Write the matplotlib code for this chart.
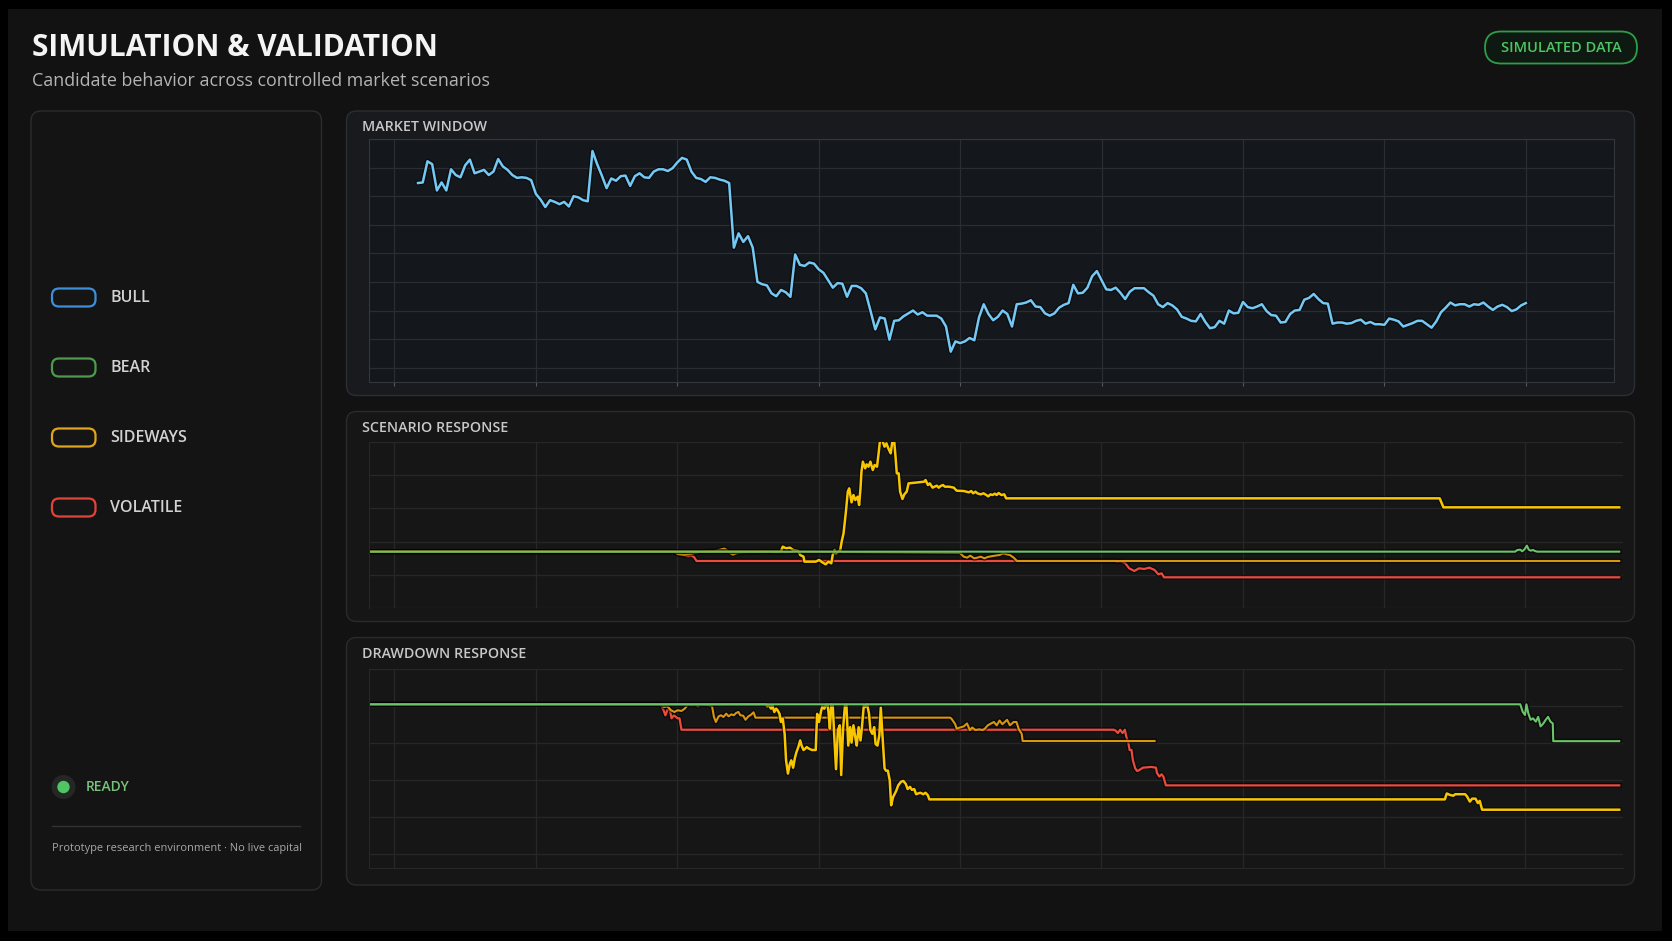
import numpy as np
import matplotlib.pyplot as plt
import matplotlib.patheffects as pe
from matplotlib.patches import FancyBboxPatch, Circle, Rectangle

W, H = 1672, 941

# ---- market window: daily price, first value is day 5 ----
market_start = 5
market_price = [
    92.3, 92.4, 96.1, 95.6, 91.0, 92.4, 91.0, 94.7, 93.7, 93.3,
    95.4, 96.4, 94.0, 94.3, 94.6, 93.7, 94.3, 96.5, 95.2, 94.6,
    93.7, 93.2, 93.3, 93.2, 92.8, 90.4, 89.4, 88.1, 89.3, 89.0,
    88.6, 89.0, 88.2, 90.0, 89.8, 89.3, 89.1, 97.9, 95.6, 93.6,
    91.4, 93.1, 92.7, 93.5, 93.6, 91.8, 93.5, 94.0, 93.3, 93.2,
    94.3, 94.7, 94.7, 94.4, 94.9, 95.9, 96.7, 96.4, 94.3, 93.2,
    93.0, 92.5, 93.3, 93.2, 92.9, 92.7, 92.3, 81.0, 83.5, 82.0,
    83.0, 81.0, 75.0, 74.6, 74.4, 73.0, 72.5, 73.6, 73.2, 72.4,
    79.8, 78.0, 77.8, 78.4, 78.2, 77.2, 76.6, 75.3, 74.0, 74.8,
    74.7, 72.4, 74.3, 74.3, 73.9, 73.0, 69.9, 66.7, 68.8, 68.6,
    64.9, 68.2, 68.3, 69.0, 69.5, 70.0, 69.3, 69.7, 69.1, 69.1,
    69.1, 68.6, 67.2, 62.8, 64.6, 64.3, 64.6, 65.2, 64.8, 68.8,
    71.1, 69.4, 68.3, 68.9, 70.0, 69.4, 67.2, 71.1, 71.2, 71.4,
    71.8, 70.7, 70.6, 69.5, 69.1, 69.5, 70.5, 71.0, 71.3, 74.5,
    73.0, 73.1, 74.0, 76.0, 76.9, 75.3, 73.7, 73.6, 74.0, 73.1,
    72.0, 73.3, 73.9, 73.9, 73.9, 73.2, 72.6, 71.1, 70.6, 71.3,
    70.9, 70.2, 68.9, 68.6, 68.2, 68.1, 69.4, 68.0, 66.9, 67.1,
    68.2, 67.7, 70.0, 69.5, 69.6, 71.5, 70.6, 70.4, 70.7, 71.1,
    69.9, 69.2, 69.1, 67.9, 68.0, 69.4, 70.0, 70.1, 71.9, 72.2,
    72.9, 72.0, 71.3, 71.2, 67.7, 67.9, 67.9, 67.7, 67.8, 68.2,
    68.4, 67.7, 68.0, 67.6, 67.6, 67.5, 68.6, 68.4, 68.1, 67.2,
    67.5, 67.8, 68.2, 68.2, 67.6, 67.0, 68.1, 69.7, 70.5, 71.4,
    70.9, 71.1, 71.1, 70.7, 71.1, 71.0, 71.4, 70.7, 70.1, 70.7,
    71.0, 70.6, 69.9, 70.2, 70.9, 71.3,
]

# ---- scenario response (%), (day, value) ----
scen_yellow = [
    (-5.4, 0), (82.0, 0), (82.4, 1.5), (83.1, 1.0), (83.9, 1.2), (84.6, 0.5), (85.7, 0.2),
    (86.1, -1.0), (86.8, -1.5), (87.0, -3.0), (89.4, -3.0), (90.1, -2.5), (90.8, -3.2),
    (91.5, -3.8), (92.1, -3.0), (92.7, -3.5), (93.0, -1.0), (93.4, 0.5), (93.7, -0.5),
    (94.2, 0.0), (94.6, 0.5), (94.9, 3.0), (95.3, 5.5), (95.8, 12.0), (96.2, 18.0),
    (96.5, 19.0), (97.0, 14.8), (97.4, 17.0), (97.8, 15.5), (98.3, 16.5), (98.6, 14.0),
    (98.9, 19.0), (99.1, 24.0), (99.4, 27.0), (99.9, 25.0), (100.2, 26.2), (100.6, 25.5),
    (101.0, 27.0), (101.5, 24.5), (101.9, 26.0), (102.4, 25.5), (102.7, 29.0), (103.1, 34.2),
    (103.5, 33.5), (104.0, 31.5), (104.4, 32.5), (104.8, 31.0), (105.3, 29.5), (105.7, 33.5),
    (106.0, 34.0), (106.3, 29.0), (106.6, 23.5), (107.0, 23.5), (107.3, 18.0), (107.8, 15.8),
    (108.2, 17.2), (108.7, 18.0), (109.1, 20.5), (110.5, 20.7), (112.4, 21.0), (112.7, 21.5),
    (113.2, 20.0), (113.6, 20.5), (114.2, 19.2), (114.6, 19.5), (115.1, 19.8), (115.5, 19.2),
    (115.9, 19.7), (116.4, 20.0), (116.8, 19.5), (117.7, 19.5), (118.7, 19.2), (119.3, 18.3),
    (120.8, 18.2), (121.9, 17.8), (122.4, 18.2), (122.8, 17.5), (123.3, 18.0), (123.7, 17.5),
    (124.4, 17.2), (125.0, 17.5), (125.6, 17.0), (126.0, 16.6), (126.5, 17.2), (126.9, 17.0),
    (127.4, 17.4), (127.8, 17.0), (128.2, 17.6), (128.8, 17.0), (129.4, 17.2), (129.8, 16.0),
    (221.8, 16.0), (222.6, 13.3), (259.9, 13.3),
]
scen_orange = [
    (-5.4, 0), (59.4, 0), (60.1, -0.7), (61.6, -0.9), (63.0, -0.6), (65.2, 0.0), (68.0, 0.2),
    (70.0, 0.9), (70.5, 0.5), (71.2, -0.4), (71.8, -0.9), (72.5, -0.5), (74.0, -0.2),
    (78.0, 0.0), (81.3, -0.2), (86.4, 0.0), (120.0, -0.4), (120.8, -1.5), (121.5, -1.8),
    (122.2, -1.2), (123.0, -2.0), (123.7, -1.8), (124.4, -1.5), (125.2, -2.0), (125.9, -1.6),
    (126.6, -1.4), (127.4, -1.2), (128.4, -1.0), (129.2, -0.5), (129.9, -0.8), (130.6, -1.0),
    (131.4, -1.8), (132.1, -2.8), (259.9, -2.8),
]
scen_red = [
    (-5.4, 0), (59.4, 0), (60.1, -0.7), (60.9, -0.9), (61.6, -1.1), (62.3, -1.4), (63.0, -1.1),
    (63.6, -1.7), (64.1, -2.8), (152.9, -2.8), (153.5, -3.0), (154.0, -2.8), (155.1, -3.5),
    (155.9, -5.0), (157.0, -5.8), (158.0, -5.0), (159.1, -5.2), (160.2, -4.8), (161.3, -5.5),
    (162.1, -6.8), (162.8, -6.5), (163.3, -7.7), (259.9, -7.7),
]
scen_green = [
    (-5.4, 0), (237.8, 0), (238.3, 0.5), (238.9, 0.6), (239.3, 0.1), (239.8, 0.7), (240.3, 1.8),
    (240.7, 0.6), (241.1, 0.3), (241.6, 0.5), (242.0, 0.2), (242.5, 0), (259.9, 0),
]

# ---- drawdown response (%), (day, value) ----
dd_green = [
    (-5.4, 0), (238.9, 0), (239.4, -1.0), (239.9, -1.45), (240.2, 0), (240.6, -1.2),
    (241.1, -2.1), (241.6, -1.9), (242.2, -2.35), (242.7, -1.7), (243.2, -3.0), (243.8, -2.6),
    (244.3, -2.1), (244.8, -1.7), (245.3, -2.35), (245.8, -2.6), (245.9, -5.0), (259.9, -5.0),
]
dd_red = [
    (-5.4, 0), (56.5, 0), (57.1, -0.8), (57.5, -1.5), (57.9, -0.8), (58.4, -0.6), (58.8, -1.9),
    (59.3, -1.5), (59.7, -1.7), (60.1, -1.9), (60.5, -1.9), (60.9, -3.45), (152.6, -3.45),
    (153.0, -3.55), (153.5, -3.9), (154.0, -3.45), (154.5, -3.9), (155.0, -3.45), (155.3, -4.4),
    (155.7, -5.1), (156.0, -6.2), (156.4, -6.2), (156.7, -7.6), (157.2, -8.7), (157.6, -9.05),
    (158.0, -8.95), (158.8, -8.6), (160.6, -8.5), (161.6, -8.6), (161.8, -9.3), (162.3, -9.8),
    (162.8, -9.5), (163.2, -9.85), (163.7, -11.0), (259.9, -11.0),
]
dd_orange = [
    (-5.4, 0), (56.5, 0), (57.2, -0.36), (57.9, -0.27), (58.7, -0.81), (59.4, -1.04),
    (60.1, -0.81), (60.9, -0.9), (61.6, -0.59), (62.3, 0), (63.0, -0.14), (63.8, 0),
    (64.4, -0.27), (64.9, 0), (66.7, -0.14), (67.4, -0.27), (67.8, -1.72), (68.2, -2.4),
    (68.8, -1.63), (69.3, -1.49), (69.8, -1.72), (70.4, -1.27), (70.9, -1.63), (71.5, -1.36),
    (72.0, -1.49), (72.5, -1.18), (73.0, -1.04), (73.4, -1.49), (74.0, -1.54), (74.5, -2.1),
    (75.1, -1.63), (75.6, -1.45), (76.2, -1.09), (76.6, -1.81), (117.9, -1.81), (118.2, -1.95),
    (119.0, -2.7), (119.3, -3.3), (120.0, -3.15), (120.8, -3.0), (121.5, -2.6), (122.1, -3.5),
    (122.6, -3.15), (123.3, -3.5), (124.1, -3.4), (124.8, -3.5), (125.3, -3.3), (125.9, -2.85),
    (126.6, -2.6), (127.2, -2.4), (127.8, -2.85), (128.4, -2.2), (129.0, -2.7), (129.5, -2.4),
    (130.0, -2.1), (130.6, -2.85), (131.4, -2.4), (132.0, -2.4), (132.5, -3.4), (133.1, -4.0),
    (133.3, -4.98), (161.3, -4.98),
]
dd_yellow = [
    (-5.4, 0), (78.8, 0), (79.1, -0.27), (79.5, -0.14), (79.9, -0.59), (80.2, -0.14),
    (80.6, -1.04), (81.0, -0.59), (81.3, -0.81), (81.7, -1.27), (82.0, -2.4), (82.4, -1.95),
    (82.8, -4.0), (83.1, -7.6), (83.5, -9.4), (83.9, -8.1), (84.2, -7.6), (84.6, -8.6),
    (85.0, -7.2), (85.3, -6.5), (85.7, -5.8), (86.1, -4.9), (86.4, -5.6), (86.8, -6.2),
    (87.2, -6.0), (87.5, -5.8), (87.9, -6.0), (88.6, -6.2), (89.4, -6.2), (89.5, -4.4),
    (89.7, -1.3), (90.1, -2.4), (90.5, -1.0), (90.8, -0.27), (91.2, -0.6), (91.5, -0.14),
    (91.9, 0), (92.1, -1.04), (92.4, -3.3), (92.7, 0), (93.0, -0.14), (93.4, -5.2),
    (93.7, -8.8), (94.1, -3.5), (94.5, -2.85), (94.8, -9.6), (95.2, -3.3), (95.6, -0.14),
    (95.9, 0), (96.3, -5.6), (96.7, -3.1), (97.0, -5.2), (97.4, -2.85), (97.8, -4.5),
    (98.1, -5.6), (98.5, -3.1), (98.9, -4.9), (99.2, -3.1), (99.6, -0.14), (99.9, -0.36),
    (100.3, 0), (100.7, -1.27), (101.0, -3.5), (101.4, -4.0), (101.8, -3.1), (102.1, -5.4),
    (102.5, -5.6), (102.9, -4.2), (103.2, -0.45), (103.6, -4.65), (104.0, -8.7), (104.3, -9.0),
    (104.7, -9.0), (105.1, -10.3), (105.4, -13.7), (105.8, -12.6), (106.2, -12.1),
    (106.5, -11.7), (106.9, -11.0), (107.5, -10.5), (108.0, -10.4), (108.5, -10.8),
    (108.9, -11.5), (109.4, -11.2), (109.8, -11.6), (110.3, -11.5), (110.7, -12.2),
    (111.1, -12.1), (111.6, -12.0), (112.2, -12.2), (112.7, -12.0), (113.2, -12.35),
    (113.5, -12.9), (222.9, -12.9), (223.3, -12.1), (224.0, -12.3), (224.7, -12.4),
    (225.1, -12.2), (227.2, -12.2), (227.6, -12.5), (228.2, -13.2), (228.7, -12.8),
    (229.4, -12.8), (229.9, -13.4), (230.3, -13.1), (230.8, -14.3), (259.9, -14.3),
]

legend_labels = ['BULL', 'BEAR', 'SIDEWAYS', 'VOLATILE']
legend_colors = ['#3f8fd8', '#4e9a4e', '#e0a51e', '#e0443a']

C_YEL = '#f7c600'
C_ORA = '#d8960f'
C_GRN = '#6cc46a'
C_RED = '#ec4a3c'
C_BLUE = '#74c8f4'

plt.rcParams['font.family'] = ['Open Sans', 'DejaVu Sans']

fig = plt.figure(figsize=(W / 100, H / 100), dpi=100, facecolor='#000000')
bg = fig.add_axes([0, 0, 1, 1])
bg.set_xlim(0, W)
bg.set_ylim(H, 0)
bg.axis('off')


def panel(x0, y0, x1, y1, fc, ec, r=10, lw=1.0):
    bg.add_patch(FancyBboxPatch((x0, y0), x1 - x0, y1 - y0,
                                boxstyle=f"round,pad=0,rounding_size={r}",
                                fc=fc, ec=ec, lw=lw))


def box(x0, y0, x1, y1):
    return [x0 / W, 1 - y1 / H, (x1 - x0) / W, (y1 - y0) / H]


shadow = [pe.Stroke(linewidth=3.6, foreground='#000000', alpha=0.5), pe.Normal()]

# background
bg.add_patch(Rectangle((8, 9), 1654, 922, fc='#121212', ec='none'))

# header
bg.text(32, 48, 'SIMULATION & VALIDATION', fontsize=21.5, weight='bold', color='#f4f4f4', va='center')
bg.text(32, 81, 'Candidate behavior across controlled market scenarios', fontsize=12.9,
        color='#b4b4b4', va='center')
panel(1485, 31.5, 1637, 63.5, '#0e1a11', '#2f9d4a', r=16, lw=1.3)
bg.text(1561, 47.5, 'SIMULATED DATA', fontsize=10.5, weight='semibold', color='#4fc462',
        ha='center', va='center')

# left panel
panel(31, 111, 321.5, 890, '#141414', '#2c2c2c', r=10)
for i, (lab, col) in enumerate(zip(legend_labels, legend_colors)):
    yc = 297.5 + i * 70
    panel(52, yc - 9, 95.5, yc + 9, '#151515', col, r=7, lw=1.6)
    bg.text(110, yc, lab, fontsize=11.5, weight='semibold', color='#d2d2d2', va='center')
bg.add_patch(Circle((63.5, 787), 12, fc='#232824', ec='none'))
bg.add_patch(Circle((63.5, 787), 6.2, fc='#52c463', ec='none'))
bg.text(86, 787, 'READY', fontsize=10, weight='semibold', color='#78c27c', va='center')
bg.plot([51.5, 300], [826, 826], color='#333333', lw=1)
bg.text(51.5, 848.5, 'Prototype research environment \u00b7 No live capital', fontsize=7.9,
        color='#a8a8a8', va='center')

# chart panels
panel(346.5, 111, 1634.5, 395.5, '#181a1d', '#2b2e32', r=10)
panel(346.5, 411.5, 1634.5, 621.5, '#161616', '#2b2b2b', r=10)
panel(346.5, 637.5, 1634.5, 885, '#161616', '#2b2b2b', r=10)
for y, t in [(127, 'MARKET WINDOW'), (427.5, 'SCENARIO RESPONSE'), (654.5, 'DRAWDOWN RESPONSE')]:
    bg.text(361.5, y, t, fontsize=10.3, weight='semibold', color='#c8c8c8', va='center')

xticks = np.arange(0, 241, 30)

# market window
ax1 = fig.add_axes(box(369, 139, 1614, 382))
ax1.set_facecolor('#14171b')
days = np.arange(market_start, market_start + len(market_price))
ax1.plot(days, market_price, color=C_BLUE, lw=1.8, path_effects=shadow,
         solid_joinstyle='round')
ax1.set_xlim(-5.4, 258.7)
ax1.set_ylim(57.5, 100)
ax1.set_yticks(np.arange(60, 100.1, 5))
ax1.set_xticks(xticks)
ax1.grid(True, color='#2a2e33', lw=0.9)
ax1.tick_params(labelbottom=False, labelleft=False, left=False, length=3, color='#555a60')
for s in ax1.spines.values():
    s.set_color('#34383d')

# scenario response
ax2 = fig.add_axes(box(369, 441.7, 1623, 608.3))
ax2.set_facecolor('none')
for series, col, lw in [(scen_red, C_RED, 1.6), (scen_orange, C_ORA, 1.5),
                        (scen_yellow, C_YEL, 1.8), (scen_green, C_GRN, 1.5)]:
    d, v = zip(*series)
    ax2.plot(d, v, color=col, lw=lw, path_effects=shadow, solid_joinstyle='round')
ax2.set_xlim(-5.4, 260.7)
ax2.set_ylim(-17, 33)
ax2.set_yticks(np.linspace(-17, 33, 6))
ax2.set_xticks(xticks)
ax2.grid(True, color='#272727', lw=0.9)
ax2.tick_params(labelbottom=False, labelleft=False, length=0)
for s in ax2.spines.values():
    s.set_visible(False)
ax2.spines['left'].set_visible(True)
ax2.spines['left'].set_color('#272727')

# drawdown response
ax3 = fig.add_axes(box(369, 669.3, 1623, 868.3))
ax3.set_facecolor('none')
for series, col, lw in [(dd_red, C_RED, 1.6), (dd_orange, C_ORA, 1.5),
                        (dd_yellow, C_YEL, 1.8), (dd_green, C_GRN, 1.5)]:
    d, v = zip(*series)
    ax3.plot(d, v, color=col, lw=lw, path_effects=shadow, solid_joinstyle='round')
ax3.set_xlim(-5.4, 260.7)
ax3.set_ylim(-22.25, 4.75)
ax3.set_yticks(np.arange(4.75, -22, -5))
ax3.set_xticks(xticks)
ax3.grid(True, color='#272727', lw=0.9)
ax3.tick_params(labelbottom=False, labelleft=False, length=0)
for s in ax3.spines.values():
    s.set_visible(False)
ax3.spines['left'].set_visible(True)
ax3.spines['left'].set_color('#272727')
ax3.spines['bottom'].set_visible(True)
ax3.spines['bottom'].set_color('#272727')

fig.savefig('out.png', dpi=100, facecolor=fig.get_facecolor())
